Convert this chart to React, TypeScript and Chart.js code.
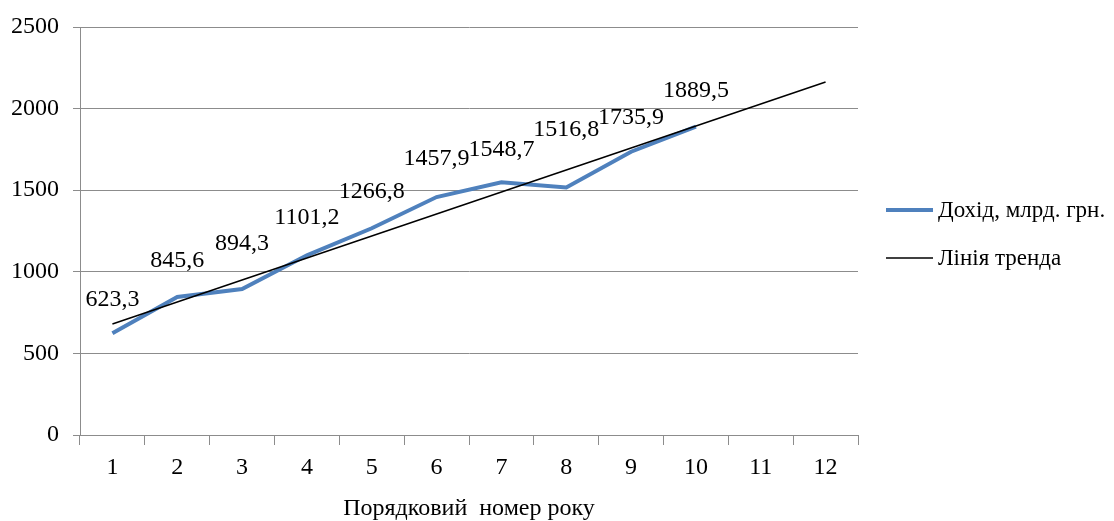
import React, { useEffect, useRef } from "react";
import { Chart, registerables } from "chart.js";

Chart.register(...registerables);

const YEARS = ["1", "2", "3", "4", "5", "6", "7", "8", "9", "10", "11", "12"];
const INCOME = [623.3, 845.6, 894.3, 1101.2, 1266.8, 1457.9, 1548.7, 1516.8, 1735.9, 1889.5];
const TREND = [680, null, null, null, null, null, null, null, null, null, null, 2163];
const Y_TICKS = [0, 500, 1000, 1500, 2000, 2500];
const INCOME_LABEL = "Дохід, млрд. грн.";
const TREND_LABEL = "Лінія тренда";
const X_TITLE = "Порядковий  номер року";

const FONT = "'Liberation Serif', 'Times New Roman', serif";
const BLUE = "#4F81BD";
const GRID = "#8C8C8C";
const LABEL_LIFT = [34, 36, 45, 38, 37, 38, 33, 58, 34, 36];

const dataLabels = {
  id: "dataLabels",
  afterDatasetsDraw(chart: any) {
    const meta = chart.getDatasetMeta(1);
    const ctx = chart.ctx;
    ctx.save();
    ctx.font = `24px ${FONT}`;
    ctx.fillStyle = "#000";
    ctx.textAlign = "center";
    ctx.textBaseline = "middle";
    meta.data.forEach((pt: any, i: number) => {
      const v = INCOME[i];
      if (v == null) return;
      ctx.fillText(v.toFixed(1).replace(".", ","), pt.x, pt.y - LABEL_LIFT[i]);
    });
    ctx.restore();
  },
};

const customLegend = {
  id: "customLegend",
  afterDraw(chart: any) {
    const ctx = chart.ctx;
    const a = chart.chartArea;
    const x0 = a.right + 28;
    const x1 = x0 + 47;
    const cy = (a.top + a.bottom) / 2 + 3;
    const items = [
      { label: INCOME_LABEL, color: BLUE, width: 4, y: cy - 24 },
      { label: TREND_LABEL, color: "#000", width: 1.5, y: cy + 24 },
    ];
    ctx.save();
    ctx.font = `23px ${FONT}`;
    ctx.textAlign = "left";
    ctx.textBaseline = "middle";
    items.forEach((it) => {
      ctx.strokeStyle = it.color;
      ctx.lineWidth = it.width;
      ctx.beginPath();
      ctx.moveTo(x0, it.y);
      ctx.lineTo(x1, it.y);
      ctx.stroke();
      ctx.fillStyle = "#000";
      ctx.fillText(it.label, x1 + 5, it.y + 1);
    });
    // axis title
    ctx.font = `24px ${FONT}`;
    ctx.textAlign = "center";
    ctx.fillText(X_TITLE, (a.left + a.right) / 2, a.bottom + 74);
    ctx.restore();
  },
};

export default function App() {
  const ref = useRef<HTMLCanvasElement | null>(null);
  useEffect(() => {
    if (!ref.current) return;
    const chart = new Chart(ref.current, {
      type: "line",
      data: {
        labels: YEARS,
        datasets: [
          {
            label: TREND_LABEL,
            data: TREND,
            borderColor: "#000",
            borderWidth: 1.5,
            pointRadius: 0,
            spanGaps: true,
            order: 0,
          },
          {
            label: INCOME_LABEL,
            data: INCOME,
            borderColor: BLUE,
            borderWidth: 4,
            pointRadius: 0,
            tension: 0,
            order: 1,
          },
        ],
      },
      options: {
        animation: false,
        responsive: true,
        maintainAspectRatio: false,
        layout: { padding: { top: 27, right: 256, left: 0, bottom: 0 } },
        plugins: { legend: { display: false }, tooltip: { enabled: false } },
        scales: {
          x: {
            offset: true,
            grid: {
              offset: true,
              drawOnChartArea: false,
              drawTicks: true,
              tickLength: 10,
              color: GRID,
            },
            border: { color: GRID, width: 1 },
            ticks: { color: "#000", font: { family: FONT, size: 24 }, padding: 8, maxRotation: 0 },
            afterFit(scale: any) {
              scale.height = 86;
            },
          },
          y: {
            min: 0,
            max: 2500,
            afterBuildTicks(scale: any) {
              scale.ticks = Y_TICKS.map((v) => ({ value: v }));
            },
            grid: { color: GRID, tickLength: 7, drawTicks: true },
            border: { color: GRID, width: 1 },
            ticks: {
              color: "#000",
              font: { family: FONT, size: 24 },
              padding: 14,
              callback: (v: any) => String(v),
            },
            afterFit(scale: any) {
              scale.width = 80;
              scale.paddingTop = 0;
            },
          },
        },
      },
      plugins: [dataLabels, customLegend],
    });
    return () => chart.destroy();
  }, []);
  return (
    <div
      style={{
        position: "absolute",
        top: 0,
        left: 0,
        width: "1114px",
        height: "521px",
        overflow: "hidden",
        background: "#fff",
      }}
    >
      <canvas ref={ref} />
    </div>
  );
}
